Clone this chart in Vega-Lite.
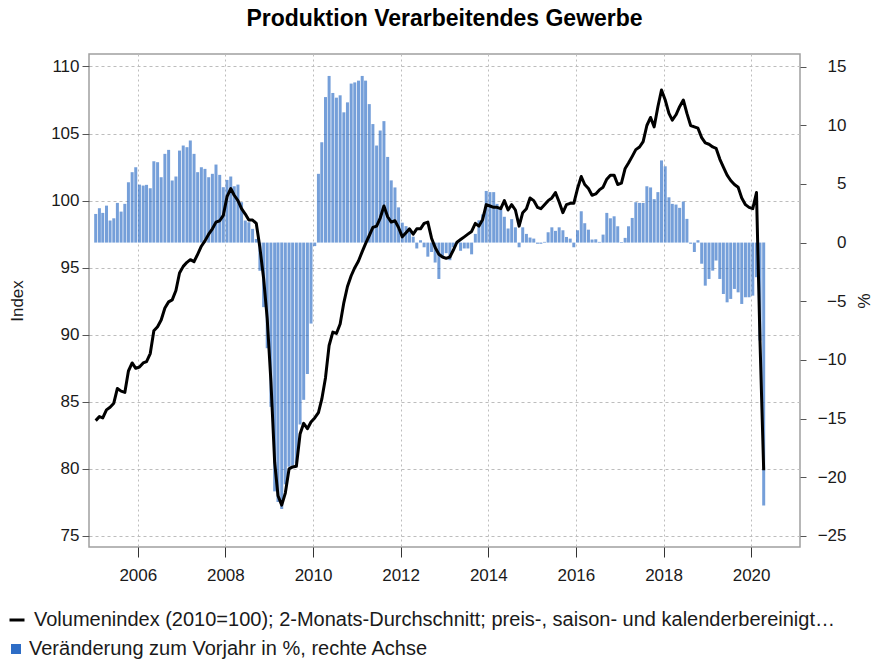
{
"$schema": "https://vega.github.io/schema/vega-lite/v6.json",
"width": 711, "height": 493,
"autosize": {"type": "none"},
"padding": {"left": 89, "top": 54, "right": 75, "bottom": 113},
"background": "white",
"title": {"text": "Produktion Verarbeitendes Gewerbe", "font": "Liberation Sans", "fontSize": 23, "fontWeight": "bold", "color": "#000000", "anchor": "middle", "offset": 23},
"config": {
  "view": {"stroke": "#A0A0A0", "strokeWidth": 1.5},
  "font": "Liberation Sans",
  "axis": {"labelFont": "Liberation Sans", "titleFont": "Liberation Sans", "labelColor": "#1a1a1a", "titleColor": "#1a1a1a"},
  "legend": {"labelFont": "Liberation Sans", "labelColor": "#1a1a1a", "padding": 0}
},
"data": {"values": [
{"date":"2005-01-15","index":83.6,"pct":2.44},{"date":"2005-02-15","index":83.9,"pct":2.93},{"date":"2005-03-15","index":83.8,"pct":2.53},{"date":"2005-04-15","index":84.4,"pct":3.15},{"date":"2005-05-15","index":84.6,"pct":1.88},{"date":"2005-06-15","index":84.9,"pct":2.07},{"date":"2005-07-15","index":86.0,"pct":3.38},{"date":"2005-08-15","index":85.8,"pct":2.64},{"date":"2005-09-15","index":85.7,"pct":3.3},{"date":"2005-10-15","index":87.3,"pct":5.14},{"date":"2005-11-15","index":87.9,"pct":6.0},{"date":"2005-12-15","index":87.5,"pct":6.42},
{"date":"2006-01-15","index":87.6,"pct":4.94},{"date":"2006-02-15","index":87.9,"pct":4.86},{"date":"2006-03-15","index":88.0,"pct":4.92},{"date":"2006-04-15","index":88.6,"pct":4.63},{"date":"2006-05-15","index":90.3,"pct":6.93},{"date":"2006-06-15","index":90.6,"pct":6.85},{"date":"2006-07-15","index":91.1,"pct":5.57},{"date":"2006-08-15","index":92.0,"pct":7.56},{"date":"2006-09-15","index":92.45,"pct":7.9},{"date":"2006-10-15","index":92.6,"pct":5.29},{"date":"2006-11-15","index":93.3,"pct":5.63},{"date":"2006-12-15","index":94.6,"pct":7.84},
{"date":"2007-01-15","index":95.1,"pct":8.27},{"date":"2007-02-15","index":95.4,"pct":8.13},{"date":"2007-03-15","index":95.6,"pct":8.7},{"date":"2007-04-15","index":95.45,"pct":7.56},{"date":"2007-05-15","index":96.0,"pct":6.0},{"date":"2007-06-15","index":96.6,"pct":6.42},{"date":"2007-07-15","index":97.0,"pct":6.28},{"date":"2007-08-15","index":97.5,"pct":5.57},{"date":"2007-09-15","index":97.9,"pct":5.86},{"date":"2007-10-15","index":98.4,"pct":6.65},{"date":"2007-11-15","index":98.5,"pct":5.77},{"date":"2007-12-15","index":98.9,"pct":4.72},
{"date":"2008-01-15","index":100.3,"pct":5.34},{"date":"2008-02-15","index":100.9,"pct":5.63},{"date":"2008-03-15","index":100.4,"pct":4.8},{"date":"2008-04-15","index":100.0,"pct":4.94},{"date":"2008-05-15","index":99.4,"pct":3.44},{"date":"2008-06-15","index":99.0,"pct":1.88},{"date":"2008-07-15","index":98.55,"pct":1.73},{"date":"2008-08-15","index":98.55,"pct":1.17},{"date":"2008-09-15","index":98.3,"pct":0.31},{"date":"2008-10-15","index":96.5,"pct":-2.4},{"date":"2008-11-15","index":94.2,"pct":-5.5},{"date":"2008-12-15","index":91.2,"pct":-9.0},
{"date":"2009-01-15","index":86.5,"pct":-14.0},{"date":"2009-02-15","index":80.5,"pct":-21.2},{"date":"2009-03-15","index":78.0,"pct":-22.1},{"date":"2009-04-15","index":77.3,"pct":-22.7},{"date":"2009-05-15","index":78.2,"pct":-20.6},{"date":"2009-06-15","index":80.0,"pct":-19.1},{"date":"2009-07-15","index":80.15,"pct":-19.0},{"date":"2009-08-15","index":80.2,"pct":-18.8},{"date":"2009-09-15","index":82.6,"pct":-15.5},{"date":"2009-10-15","index":83.4,"pct":-13.4},{"date":"2009-11-15","index":83.0,"pct":-11.2},{"date":"2009-12-15","index":83.5,"pct":-6.9},
{"date":"2010-01-15","index":83.8,"pct":-0.3},{"date":"2010-02-15","index":84.2,"pct":5.86},{"date":"2010-03-15","index":85.2,"pct":8.55},{"date":"2010-04-15","index":86.8,"pct":12.4},{"date":"2010-05-15","index":89.2,"pct":14.2},{"date":"2010-06-15","index":90.2,"pct":12.75},{"date":"2010-07-15","index":90.1,"pct":12.35},{"date":"2010-08-15","index":90.8,"pct":12.55},{"date":"2010-09-15","index":92.4,"pct":11.1},{"date":"2010-10-15","index":93.6,"pct":11.95},{"date":"2010-11-15","index":94.4,"pct":13.55},{"date":"2010-12-15","index":95.0,"pct":13.65},
{"date":"2011-01-15","index":95.5,"pct":13.8},{"date":"2011-02-15","index":96.2,"pct":14.2},{"date":"2011-03-15","index":96.8,"pct":13.8},{"date":"2011-04-15","index":97.4,"pct":11.8},{"date":"2011-05-15","index":98.0,"pct":10.1},{"date":"2011-06-15","index":98.1,"pct":8.27},{"date":"2011-07-15","index":98.7,"pct":9.55},{"date":"2011-08-15","index":99.6,"pct":10.35},{"date":"2011-09-15","index":98.8,"pct":7.3},{"date":"2011-10-15","index":98.4,"pct":5.3},{"date":"2011-11-15","index":98.5,"pct":4.7},{"date":"2011-12-15","index":98.0,"pct":3.0},
{"date":"2012-01-15","index":97.3,"pct":1.7},{"date":"2012-02-15","index":97.6,"pct":1.4},{"date":"2012-03-15","index":97.9,"pct":1.0},{"date":"2012-04-15","index":97.5,"pct":0.5},{"date":"2012-05-15","index":97.9,"pct":-0.5},{"date":"2012-06-15","index":97.9,"pct":0.2},{"date":"2012-07-15","index":98.3,"pct":-0.4},{"date":"2012-08-15","index":98.4,"pct":-1.2},{"date":"2012-09-15","index":97.2,"pct":-0.8},{"date":"2012-10-15","index":96.5,"pct":-1.7},{"date":"2012-11-15","index":96.0,"pct":-3.1},{"date":"2012-12-15","index":95.8,"pct":-1.25},
{"date":"2013-01-15","index":95.7,"pct":-0.9},{"date":"2013-02-15","index":95.8,"pct":-1.5},{"date":"2013-03-15","index":96.3,"pct":-0.4},{"date":"2013-04-15","index":96.9,"pct":-0.1},{"date":"2013-05-15","index":97.1,"pct":-0.7},{"date":"2013-06-15","index":97.3,"pct":-0.5},{"date":"2013-07-15","index":97.5,"pct":-0.5},{"date":"2013-08-15","index":97.7,"pct":-1.0},{"date":"2013-09-15","index":98.3,"pct":0.74},{"date":"2013-10-15","index":98.1,"pct":1.9},{"date":"2013-11-15","index":98.6,"pct":2.4},{"date":"2013-12-15","index":99.7,"pct":4.4},
{"date":"2014-01-15","index":99.6,"pct":4.3},{"date":"2014-02-15","index":99.5,"pct":4.3},{"date":"2014-03-15","index":99.5,"pct":3.3},{"date":"2014-04-15","index":99.4,"pct":2.9},{"date":"2014-05-15","index":100.0,"pct":2.2},{"date":"2014-06-15","index":99.3,"pct":1.2},{"date":"2014-07-15","index":99.7,"pct":2.0},{"date":"2014-08-15","index":99.3,"pct":1.3},{"date":"2014-09-15","index":98.1,"pct":-0.4},{"date":"2014-10-15","index":99.1,"pct":1.3},{"date":"2014-11-15","index":99.4,"pct":0.74},{"date":"2014-12-15","index":100.2,"pct":0.43},
{"date":"2015-01-15","index":100.0,"pct":0.34},{"date":"2015-02-15","index":99.5,"pct":-0.1},{"date":"2015-03-15","index":99.4,"pct":-0.1},{"date":"2015-04-15","index":99.7,"pct":0.06},{"date":"2015-05-15","index":100.0,"pct":0.88},{"date":"2015-06-15","index":100.2,"pct":1.3},{"date":"2015-07-15","index":100.6,"pct":1.0},{"date":"2015-08-15","index":99.9,"pct":1.3},{"date":"2015-09-15","index":99.1,"pct":1.05},{"date":"2015-10-15","index":99.7,"pct":0.48},{"date":"2015-11-15","index":99.8,"pct":0.34},{"date":"2015-12-15","index":99.8,"pct":-0.4},
{"date":"2016-01-15","index":100.9,"pct":1.05},{"date":"2016-02-15","index":101.8,"pct":2.67},{"date":"2016-03-15","index":101.2,"pct":1.65},{"date":"2016-04-15","index":100.9,"pct":1.1},{"date":"2016-05-15","index":100.4,"pct":0.26},{"date":"2016-06-15","index":100.5,"pct":0.28},{"date":"2016-07-15","index":100.8,"pct":0.06},{"date":"2016-08-15","index":101.0,"pct":0.68},{"date":"2016-09-15","index":101.6,"pct":2.53},{"date":"2016-10-15","index":101.9,"pct":2.07},{"date":"2016-11-15","index":101.9,"pct":2.24},{"date":"2016-12-15","index":101.2,"pct":1.39},
{"date":"2017-01-15","index":101.3,"pct":0.05},{"date":"2017-02-15","index":102.4,"pct":0.4},{"date":"2017-03-15","index":102.8,"pct":1.39},{"date":"2017-04-15","index":103.3,"pct":2.1},{"date":"2017-05-15","index":103.8,"pct":3.44},{"date":"2017-06-15","index":104.0,"pct":3.38},{"date":"2017-07-15","index":104.4,"pct":3.38},{"date":"2017-08-15","index":105.6,"pct":4.8},{"date":"2017-09-15","index":106.2,"pct":4.7},{"date":"2017-10-15","index":105.5,"pct":3.7},{"date":"2017-11-15","index":107.0,"pct":4.3},{"date":"2017-12-15","index":108.25,"pct":7.0},
{"date":"2018-01-15","index":107.5,"pct":6.5},{"date":"2018-02-15","index":106.5,"pct":3.86},{"date":"2018-03-15","index":106.0,"pct":3.3},{"date":"2018-04-15","index":106.4,"pct":3.24},{"date":"2018-05-15","index":107.0,"pct":2.96},{"date":"2018-06-15","index":107.5,"pct":3.5},{"date":"2018-07-15","index":106.5,"pct":2.02},{"date":"2018-08-15","index":105.6,"pct":-0.1},{"date":"2018-09-15","index":105.5,"pct":-0.8},{"date":"2018-10-15","index":105.4,"pct":0.2},{"date":"2018-11-15","index":104.7,"pct":-1.8},{"date":"2018-12-15","index":104.3,"pct":-3.67},
{"date":"2019-01-15","index":104.2,"pct":-3.1},{"date":"2019-02-15","index":104.0,"pct":-2.39},{"date":"2019-03-15","index":103.9,"pct":-1.53},{"date":"2019-04-15","index":103.1,"pct":-3.1},{"date":"2019-05-15","index":102.5,"pct":-4.38},{"date":"2019-06-15","index":101.9,"pct":-5.09},{"date":"2019-07-15","index":101.5,"pct":-4.8},{"date":"2019-08-15","index":101.2,"pct":-3.95},{"date":"2019-09-15","index":101.0,"pct":-4.24},{"date":"2019-10-15","index":100.2,"pct":-5.23},{"date":"2019-11-15","index":99.7,"pct":-4.66},{"date":"2019-12-15","index":99.5,"pct":-4.66},
{"date":"2020-01-15","index":99.4,"pct":-4.52},{"date":"2020-02-15","index":100.6,"pct":-2.95},{"date":"2020-03-15","index":89.6,"pct":-8.35},{"date":"2020-04-15","index":79.9,"pct":-22.4}
]},
"resolve": {"scale": {"y": "independent", "color": "independent"}, "legend": {"color": "independent"}},
"layer": [
  {
    "mark": {"type": "bar", "width": 3, "fillOpacity": 0.66},
    "encoding": {
      "x": {"field": "date", "type": "temporal",
        "scale": {"domain": [{"year": 2005, "month": 1, "date": 1}, {"year": 2021, "month": 1, "date": 1}]},
        "axis": {"values": [{"year": 2006, "month": 1, "date": 1}, {"year": 2008, "month": 1, "date": 1}, {"year": 2010, "month": 1, "date": 1}, {"year": 2012, "month": 1, "date": 1}, {"year": 2014, "month": 1, "date": 1}, {"year": 2016, "month": 1, "date": 1}, {"year": 2018, "month": 1, "date": 1}, {"year": 2020, "month": 1, "date": 1}],
          "format": "%Y", "title": null, "grid": true, "gridDash": [2, 3], "gridColor": "#BDBDBD", "gridWidth": 1,
          "domain": false, "tickSize": 10, "tickColor": "#333333", "labelFontSize": 17, "labelPadding": 10}},
      "y": {"field": "pct", "type": "quantitative",
        "scale": {"domain": [-25.94, 16.07], "nice": false, "zero": false},
        "axis": {"orient": "right", "values": [-25, -20, -15, -10, -5, 0, 5, 10, 15], "grid": false, "domain": false,
          "tickSize": 6, "tickColor": "#555555", "labelAlign": "right", "labelPadding": 40, "labelFontSize": 17,
          "title": "%", "titleFontSize": 17, "titleFontWeight": "normal", "titlePadding": 7}},
      "color": {"datum": "Veränderung zum Vorjahr in %, rechte Achse", "type": "nominal",
        "scale": {"range": ["#2E6DC6"]},
        "legend": {"orient": "none", "legendX": -83, "legendY": 585, "title": null, "symbolType": "square", "symbolSize": 100,
          "symbolOpacity": 1, "labelFontSize": 20, "labelOffset": 3, "labelLimit": 900,
          "encode": {"symbols": {"update": {"fillOpacity": {"value": 1}, "strokeWidth": {"value": 0}}}}}}
    }
  },
  {
    "mark": {"type": "line", "strokeWidth": 3, "strokeJoin": "round"},
    "encoding": {
      "x": {"field": "date", "type": "temporal",
        "scale": {"domain": [{"year": 2005, "month": 1, "date": 1}, {"year": 2021, "month": 1, "date": 1}]},
        "axis": {"values": [{"year": 2006, "month": 1, "date": 1}, {"year": 2008, "month": 1, "date": 1}, {"year": 2010, "month": 1, "date": 1}, {"year": 2012, "month": 1, "date": 1}, {"year": 2014, "month": 1, "date": 1}, {"year": 2016, "month": 1, "date": 1}, {"year": 2018, "month": 1, "date": 1}, {"year": 2020, "month": 1, "date": 1}],
          "format": "%Y", "title": null, "grid": true, "gridDash": [2, 3], "gridColor": "#BDBDBD", "gridWidth": 1,
          "domain": false, "tickSize": 10, "tickColor": "#333333", "labelFontSize": 17, "labelPadding": 10}},
      "y": {"field": "index", "type": "quantitative",
        "scale": {"domain": [74.18, 110.93], "nice": false, "zero": false},
        "axis": {"orient": "left", "values": [75, 80, 85, 90, 95, 100, 105, 110], "grid": true, "gridDash": [3, 3], "gridColor": "#BDBDBD", "gridWidth": 1,
          "domain": false, "tickSize": 7, "tickColor": "#555555", "labelPadding": 3, "labelFontSize": 17,
          "title": "Index", "titleFontSize": 17, "titleFontWeight": "normal", "titlePadding": 24}},
      "color": {"datum": "Volumenindex (2010=100); 2-Monats-Durchschnitt; preis-, saison- und kalenderbereinigt…", "type": "nominal",
        "scale": {"range": ["#000000"]},
        "legend": {"orient": "none", "legendX": -82, "legendY": 556, "title": null, "symbolType": "stroke", "symbolSize": 225,
          "symbolStrokeWidth": 3, "labelFontSize": 20, "labelOffset": 7, "labelLimit": 900}}
    }
  }
]
}
